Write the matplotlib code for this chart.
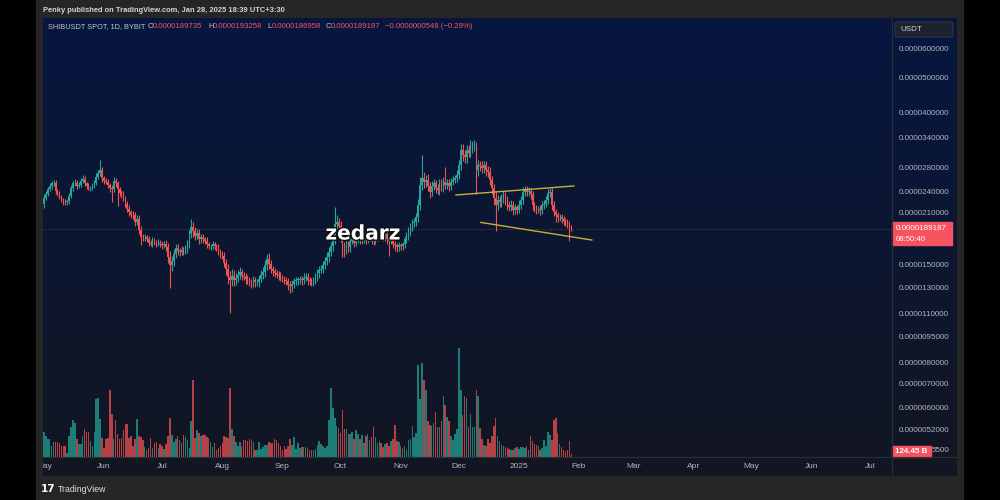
import numpy as np
import pandas as pd
import matplotlib
matplotlib.use("Agg")
import matplotlib.pyplot as plt
import matplotlib.dates as mdates
from matplotlib.patches import Rectangle, FancyBboxPatch
from matplotlib.lines import Line2D
from matplotlib.ticker import NullLocator, FixedLocator, FixedFormatter
import matplotlib.patheffects as pe

plt.rcParams['font.family'] = ['Liberation Sans', 'DejaVu Sans']

# ---------------- data (prices in units of 1e-5 USDT, volume in billions) ----------------
SCALE = 1e-5
start_date = "2024-05-01"
first_open = 2.22
close = [
    2.31, 2.37, 2.44, 2.49, 2.53, 2.53, 2.41, 2.37, 2.32, 2.28,
    2.25, 2.24, 2.26, 2.34, 2.46, 2.53, 2.54, 2.49, 2.51, 2.57,
    2.61, 2.53, 2.49, 2.46, 2.46, 2.49, 2.54, 2.64, 2.71, 2.76,
    2.62, 2.57, 2.56, 2.51, 2.46, 2.44, 2.57, 2.53, 2.44, 2.38,
    2.36, 2.30, 2.22, 2.15, 2.10, 2.07, 2.06, 1.98, 2.01, 1.88,
    1.80, 1.79, 1.79, 1.77, 1.73, 1.72, 1.75, 1.73, 1.72, 1.73,
    1.71, 1.70, 1.72, 1.68, 1.58, 1.50, 1.54, 1.61, 1.67, 1.64,
    1.63, 1.65, 1.64, 1.66, 1.72, 1.83, 1.91, 1.86, 1.81, 1.84,
    1.77, 1.79, 1.77, 1.75, 1.71, 1.69, 1.69, 1.71, 1.69, 1.67,
    1.63, 1.61, 1.59, 1.52, 1.46, 1.39, 1.36, 1.40, 1.36, 1.38,
    1.41, 1.43, 1.40, 1.39, 1.37, 1.36, 1.34, 1.33, 1.36, 1.34,
    1.34, 1.37, 1.41, 1.43, 1.50, 1.56, 1.51, 1.46, 1.44, 1.42,
    1.41, 1.40, 1.38, 1.37, 1.36, 1.35, 1.32, 1.31, 1.33, 1.35,
    1.36, 1.36, 1.37, 1.36, 1.38, 1.39, 1.36, 1.35, 1.34, 1.36,
    1.39, 1.42, 1.45, 1.46, 1.50, 1.54, 1.58, 1.63, 1.69, 1.77,
    1.95, 1.98, 1.93, 1.81, 1.70, 1.66, 1.71, 1.68, 1.75, 1.77,
    1.73, 1.77, 1.79, 1.76, 1.77, 1.81, 1.77, 1.79, 1.81, 1.77,
    1.75, 1.79, 1.81, 1.84, 1.81, 1.79, 1.83, 1.77, 1.75, 1.77,
    1.72, 1.70, 1.68, 1.70, 1.69, 1.71, 1.77, 1.81, 1.86, 1.91,
    1.96, 1.98, 2.04, 2.21, 2.51, 2.62, 2.56, 2.59, 2.49, 2.40,
    2.49, 2.53, 2.46, 2.43, 2.53, 2.48, 2.56, 2.51, 2.54, 2.49,
    2.56, 2.59, 2.62, 2.68, 2.85, 3.14, 3.04, 2.99, 3.14, 3.08,
    3.18, 3.22, 3.24, 2.76, 2.85, 2.83, 2.79, 2.85, 2.76, 2.73,
    2.59, 2.46, 2.31, 2.21, 2.28, 2.25, 2.30, 2.34, 2.28, 2.21,
    2.18, 2.21, 2.14, 2.17, 2.14, 2.21, 2.28, 2.40, 2.43, 2.40,
    2.41, 2.36, 2.21, 2.17, 2.14, 2.15, 2.13, 2.21, 2.22, 2.28,
    2.38, 2.40, 2.21, 2.11, 2.06, 2.04, 2.04, 2.01, 1.99, 1.97,
    1.95, 1.89735, 1.89187,
]
upper_wick = [
    .05, .04, .04, .05, .04, .05, .06, .03, .04, .03,
    .03, .04, .03, .04, .05, .04, .06, .04, .05, .05,
    .06, .05, .03, .04, .03, .04, .05, .06, .05, .18,
    .06, .04, .05, .04, .03, .05, .07, .05, .04, .04,
    .04, .05, .04, .04, .05, .04, .05, .04, .05, .06,
    .05, .03, .04, .03, .04, .03, .04, .03, .03, .04,
    .03, .04, .03, .04, .05, .06, .05, .05, .04, .04,
    .03, .04, .03, .04, .04, .05, .10, .06, .05, .05,
    .05, .04, .04, .03, .04, .03, .03, .04, .03, .03,
    .04, .03, .03, .04, .04, .05, .05, .06, .05, .04,
    .04, .05, .03, .03, .03, .04, .03, .03, .04, .03,
    .03, .04, .04, .05, .05, .05, .06, .04, .03, .03,
    .03, .03, .03, .03, .03, .03, .03, .03, .03, .03,
    .03, .03, .03, .03, .04, .03, .03, .03, .03, .03,
    .03, .04, .04, .04, .04, .04, .05, .05, .05, .08,
    .22, .08, .05, .06, .05, .04, .05, .04, .04, .05,
    .04, .04, .05, .04, .04, .05, .04, .04, .05, .04,
    .04, .04, .05, .05, .04, .04, .05, .04, .04, .04,
    .04, .03, .03, .04, .03, .03, .04, .04, .05, .05,
    .05, .05, .05, .08, .12, .42, .10, .09, .10, .07,
    .08, .07, .06, .06, .08, .07, .08, .25, .07, .06,
    .06, .06, .06, .08, .10, .12, .12, .09, .10, .09,
    .17, .10, .11, .06, .10, .08, .09, .08, .07, .07,
    .08, .07, .06, .08, .07, .06, .06, .07, .05, .05,
    .05, .06, .05, .05, .04, .06, .06, .07, .06, .06,
    .06, .05, .05, .04, .04, .04, .05, .05, .06, .06,
    .06, .06, .05, .05, .04, .04, .04, .04, .04, .04,
    .04, .04, .0407,
]
lower_wick = [
    .06, .04, .04, .03, .05, .04, .04, .04, .03, .04,
    .04, .04, .03, .04, .03, .05, .04, .05, .04, .03,
    .04, .04, .05, .04, .05, .04, .03, .04, .04, .05,
    .06, .05, .04, .05, .06, .20, .05, .05, .25, .04,
    .05, .04, .05, .04, .05, .04, .04, .05, .04, .05,
    .10, .04, .04, .03, .04, .03, .04, .03, .04, .03,
    .03, .04, .03, .04, .06, .21, .06, .05, .04, .04,
    .04, .03, .04, .03, .04, .05, .05, .06, .05, .04,
    .05, .04, .04, .03, .04, .03, .04, .03, .04, .03,
    .03, .04, .03, .04, .05, .06, .26, .05, .05, .04,
    .04, .04, .04, .03, .04, .03, .03, .04, .03, .04,
    .03, .04, .03, .04, .04, .05, .05, .04, .04, .03,
    .03, .04, .03, .03, .03, .03, .04, .06, .05, .04,
    .03, .04, .03, .04, .03, .03, .04, .03, .03, .03,
    .03, .04, .04, .03, .04, .04, .04, .05, .04, .05,
    .06, .06, .06, .07, .12, .08, .05, .05, .05, .04,
    .05, .04, .04, .05, .04, .04, .05, .04, .04, .05,
    .05, .04, .04, .04, .05, .04, .04, .05, .16, .04,
    .05, .06, .05, .04, .04, .04, .04, .04, .05, .05,
    .05, .05, .05, .06, .08, .09, .10, .08, .08, .10,
    .07, .07, .08, .07, .08, .07, .08, .07, .07, .08,
    .06, .06, .06, .06, .07, .10, .12, .10, .10, .09,
    .09, .10, .10, .40, .10, .09, .08, .09, .10, .09,
    .09, .10, .10, .35, .08, .08, .07, .07, .08, .08,
    .06, .06, .07, .06, .06, .05, .06, .06, .06, .06,
    .06, .07, .07, .06, .06, .05, .06, .05, .06, .05,
    .06, .06, .07, .06, .09, .06, .05, .05, .05, .05,
    .05, .15, .02229,
]
volume_b = [
    1000, 840, 720, 720, 440, 600, 600, 600, 560, 440,
    440, 440, 160, 840, 1200, 1480, 1360, 720, 520, 520,
    840, 1120, 1000, 1000, 640, 440, 1000, 2320, 2360, 1520,
    760, 360, 720, 760, 2680, 1720, 720, 1480, 920, 720,
    760, 1080, 1320, 1320, 760, 840, 440, 720, 1520, 840,
    800, 680, 400, 280, 360, 760, 360, 560, 600, 360,
    520, 440, 320, 520, 840, 1560, 880, 600, 720, 840,
    680, 560, 880, 800, 680, 360, 1440, 3080, 760, 1080,
    960, 840, 880, 880, 800, 760, 600, 400, 560, 280,
    360, 440, 560, 840, 800, 760, 2760, 1120, 840, 600,
    440, 600, 440, 680, 680, 640, 720, 680, 600, 280,
    280, 600, 320, 400, 480, 480, 600, 560, 560, 720,
    680, 560, 440, 280, 440, 320, 440, 720, 480, 800,
    320, 560, 360, 400, 400, 400, 360, 280, 280, 280,
    320, 480, 640, 520, 440, 360, 440, 1480, 2760, 1960,
    1560, 1240, 1160, 960, 1880, 1120, 1120, 920, 920, 1000,
    720, 1080, 920, 720, 880, 560, 840, 920, 680, 800,
    1200, 800, 560, 640, 560, 400, 520, 560, 440, 640,
    720, 1280, 640, 600, 440, 360, 440, 280, 680, 720,
    1240, 800, 960, 3680, 2320, 3760, 3080, 2680, 1440, 1280,
    1240, 1360, 1800, 1200, 1200, 1440, 2440, 2080, 1600, 1440,
    840, 680, 920, 1120, 4360, 2680, 1680, 2440, 2360, 1200,
    1720, 1200, 1200, 2680, 2440, 1160, 720, 480, 440, 720,
    560, 840, 1240, 1560, 840, 640, 480, 440, 400, 360,
    320, 280, 280, 360, 400, 320, 400, 400, 360, 440,
    280, 840, 640, 520, 480, 440, 280, 360, 680, 440,
    1000, 880, 680, 1480, 1560, 960, 520, 400, 280, 240,
    280, 640, 124.45,
]
price_ticks = [6.0, 5.0, 4.0, 3.4, 2.8, 2.4, 2.1, 1.5, 1.3, 1.1, 0.95, 0.8, 0.7, 0.6, 0.52]
hidden_tick = 0.455          # tick mostly covered by the volume label; only "5500" shows
hidden_tick_visible = "5500"
month_ticks = ["2024-05-01", "2024-06-01", "2024-07-01", "2024-08-01", "2024-09-01",
               "2024-10-01", "2024-11-01", "2024-12-01", "2025-01-01", "2025-02-01",
               "2025-03-01", "2025-04-01", "2025-05-01", "2025-06-01", "2025-07-01"]
month_labels = ["May", "Jun", "Jul", "Aug", "Sep", "Oct", "Nov", "Dec", "2025",
                "Feb", "Mar", "Apr", "May", "Jun", "Jul"]
upper_trend_dates = ["2024-11-29 12:00", "2025-01-29 08:00"]
upper_trend_prices = [2.35, 2.49]
lower_trend_dates = ["2024-12-12 10:00", "2025-02-07 14:00"]
lower_trend_prices = [1.97, 1.76]
header_title = "Penky published on TradingView.com, Jan 28, 2025 18:39 UTC+3:30"
symbol_text = "SHIBUSDT SPOT, 1D, BYBIT"
ohlc_text = [("O", "0.0000189735"), ("H", "0.0000193258"), ("L", "0.0000186958"), ("C", "0.0000189187")]
change_text = "\u22120.0000000548 (\u22120.29%)"
last_price_text = "0.0000189187"
countdown_text = "08:50:40"
volume_label = "124.45 B"

# ---------------- derived ----------------
n = len(close)
dates = pd.date_range(start_date, periods=n, freq="D")
xd = mdates.date2num(dates)
c = np.array(close)
o = np.array([first_open] + close[:-1])
hi = np.maximum(o, c) + np.array(upper_wick)
lo = np.minimum(o, c) - np.array(lower_wick)
up = c >= o
UP, DOWN = "#26a69a", "#ef5350"
VUP, VDOWN = "#1f8a82", "#c8454b"
cols = np.where(up, UP, DOWN)
vcols = np.where(up, VUP, VDOWN)

W, H = 1000, 500
def fx(px): return px / W
def fy(py): return 1 - py / H

fig = plt.figure(figsize=(10, 5), dpi=100, facecolor="black")
fig.add_artist(Rectangle((fx(36), 0), fx(963) - fx(36), 1, transform=fig.transFigure,
                         color="#262626", zorder=0))

# gradient background of the chart box
bg = fig.add_axes([fx(43), fy(476), fx(957) - fx(43), (476 - 18) / H])
top = np.array([6, 22, 64]) / 255
bot = np.array([19, 23, 34]) / 255
t = np.linspace(0, 1, 256)[:, None]
grad = (top[None, :] * (1 - t) + bot[None, :] * t)[:, None, :]
bg.imshow(grad, aspect="auto", extent=[0, 1, 0, 1], interpolation="bilinear")
bg.axis("off")

x_left = mdates.date2num(pd.Timestamp("2024-06-01")) - 31.46
x_right = mdates.date2num(pd.Timestamp("2024-06-01")) + 406.4
pane = [fx(43), fy(457), fx(892) - fx(43), (457 - 18) / H]

# volume (overlay at bottom)
vax = fig.add_axes(pane)
vax.patch.set_alpha(0)
vax.bar(xd, volume_b, width=0.8, color=vcols, alpha=0.9, linewidth=0)
vax.set_ylim(0, 439 * 40)
vax.set_xlim(x_left, x_right)
vax.axis("off")

# price candles
ax = fig.add_axes(pane)
ax.patch.set_alpha(0)
ax.set_yscale("log")
ax.set_ylim(0.437 * SCALE, 7.32 * SCALE)
ax.set_xlim(x_left, x_right)
ax.vlines(xd, lo * SCALE, hi * SCALE, colors=cols, linewidth=0.8)
body_h = np.maximum(np.abs(c - o), 0.006)
ax.bar(xd, body_h * SCALE, bottom=np.minimum(o, c) * SCALE, width=0.8, color=cols, linewidth=0)

ax.plot(mdates.date2num(pd.to_datetime(upper_trend_dates)), np.array(upper_trend_prices) * SCALE,
        color="#c8b03a", lw=1.0)
ax.plot(mdates.date2num(pd.to_datetime(lower_trend_dates)), np.array(lower_trend_prices) * SCALE,
        color="#c8b03a", lw=1.0)
ax.axhline(c[-1] * SCALE, color="#f7525f", lw=0.6, ls=(0, (1, 2)), alpha=0.6)

for s in ax.spines.values():
    s.set_visible(False)
ax.yaxis.tick_right()
ax.yaxis.set_major_locator(FixedLocator([p * SCALE for p in price_ticks]))
ax.yaxis.set_major_formatter(FixedFormatter([f"{p * SCALE:.10f}" for p in price_ticks]))
ax.yaxis.set_minor_locator(NullLocator())
ax.tick_params(axis="y", length=0, pad=5, labelsize=5.8, labelcolor="#b2b5be")
ax.tick_params(axis="x", bottom=False, labelbottom=False)
ax.text(1.0, hidden_tick * SCALE, hidden_tick_visible, transform=ax.get_yaxis_transform(),
        fontsize=5.8, color="#b2b5be", va="center", ha="left")
ax.texts[-1].set_x(1.0 + (932 - 892) / (892 - 43))

# time axis
tax = fig.add_axes([fx(43), fy(476), fx(892) - fx(43), 19 / H])
tax.patch.set_alpha(0)
tax.set_xlim(x_left, x_right)
tax.set_ylim(0, 1)
tax.axis("off")
for d, lbl in zip(month_ticks, month_labels):
    tax.text(mdates.date2num(pd.Timestamp(d)), 0.5, lbl, ha="center", va="center",
             fontsize=6, color="#b2b5be", clip_on=True)

# separators
fig.add_artist(Line2D([fx(892), fx(892)], [fy(18), fy(476)], color="#2a2e39", lw=0.8))
fig.add_artist(Line2D([fx(43), fx(957)], [fy(457), fy(457)], color="#2a2e39", lw=0.8))

# header
fig.text(fx(43), fy(10), header_title, fontsize=5.4, weight="bold", color="#d1d4dc", va="center")
fig.text(fx(48), fy(27), symbol_text, fontsize=5.3, color="#c3c6ce", va="center")
lab_x = [148, 208, 267, 326]
for (lab, val), xx in zip(ohlc_text, lab_x):
    fig.text(fx(xx), fy(27), lab, fontsize=5.6, color="#c3c6ce", va="center")
    fig.text(fx(xx + 4.8), fy(27), val, fontsize=5.6, color="#f7525f", va="center")
fig.text(fx(385), fy(27), change_text, fontsize=5.6, color="#f7525f", va="center")

# USDT box
fig.add_artist(FancyBboxPatch((fx(895), fy(37)), fx(58), 15 / H, boxstyle="round,pad=0,rounding_size=0.003",
                              transform=fig.transFigure, facecolor="#1c2030", edgecolor="#3a3e4a", lw=0.6))
fig.text(fx(900), fy(29.5), "USDT", fontsize=5.8, color="#d1d4dc", va="center")

# last price label
fig.add_artist(Rectangle((fx(892), fy(245)), fx(60), 23 / H, transform=fig.transFigure, color="#f7525f"))
fig.text(fx(896), fy(229), last_price_text, fontsize=5.8, color="white", va="center")
fig.text(fx(896), fy(239.5), countdown_text, fontsize=5.6, color="white", va="center")

# volume label
fig.add_artist(Rectangle((fx(892), fy(457)), fx(39), 11 / H, transform=fig.transFigure, color="#f7525f"))
fig.text(fx(911.5), fy(451.5), volume_label, fontsize=5.8, color="white", va="center", ha="center",
         weight="bold")

# watermark
fig.text(fx(363), fy(234), "zedarz", fontsize=14.5, weight="bold", color="white", ha="center",
         va="center", family="DejaVu Sans",
         path_effects=[pe.withStroke(linewidth=2, foreground="#101010")])

# footer
fig.text(fx(41), fy(489), "17", fontsize=7.5, weight="heavy", color="white", va="center",
         family="DejaVu Sans")
fig.text(fx(58), fy(489), "TradingView", fontsize=6.3, color="#e0e0e0", va="center")

fig.savefig("out.png", dpi=100, facecolor="black")
